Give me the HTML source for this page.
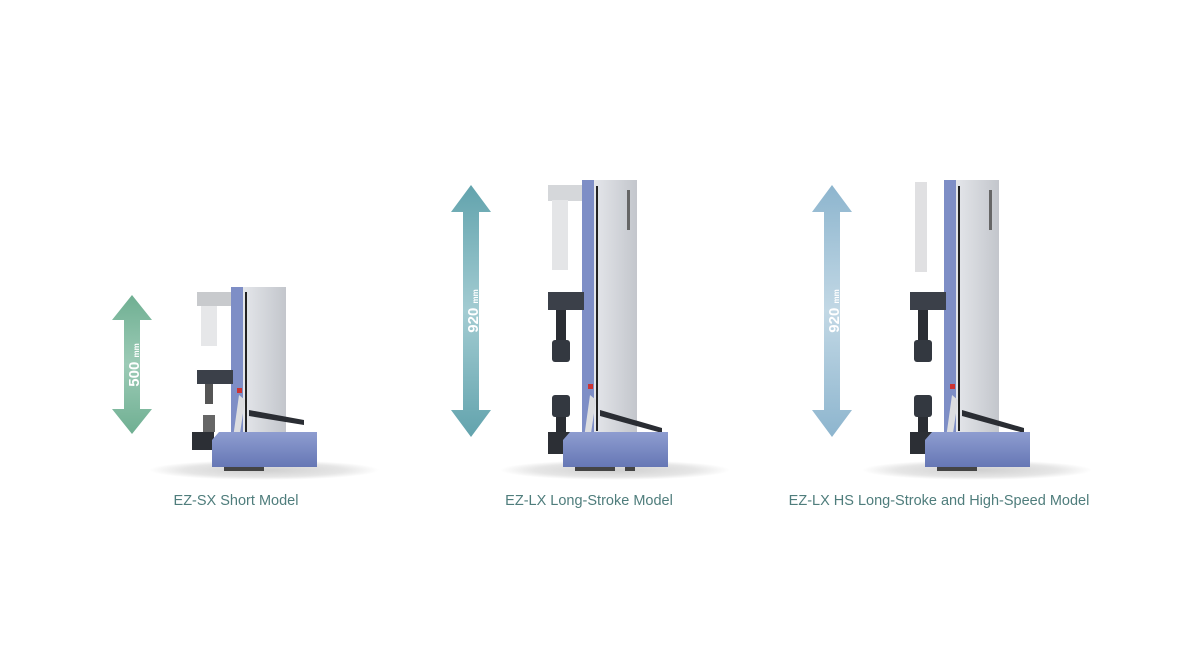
<!DOCTYPE html>
<html><head><meta charset="utf-8"><style>
html,body{margin:0;padding:0;background:#fff;}
svg{display:block}
text{font-family:"Liberation Sans",sans-serif}
</style></head><body>
<svg width="1195" height="670" viewBox="0 0 1195 670" xmlns="http://www.w3.org/2000/svg">
<defs>
<linearGradient id="gG" x1="0" x2="0" y1="0" y2="1"><stop offset="0" stop-color="#6faf92"/><stop offset="0.5" stop-color="#9ccbb6"/><stop offset="1" stop-color="#6faf92"/></linearGradient>
<linearGradient id="gT" x1="0" x2="0" y1="0" y2="1"><stop offset="0" stop-color="#62a3ad"/><stop offset="0.5" stop-color="#a3ccd2"/><stop offset="1" stop-color="#62a3ad"/></linearGradient>
<linearGradient id="gB" x1="0" x2="0" y1="0" y2="1"><stop offset="0" stop-color="#8db5ce"/><stop offset="0.5" stop-color="#c2d8e5"/><stop offset="1" stop-color="#8db5ce"/></linearGradient>
<linearGradient id="gray" x1="0" x2="1"><stop offset="0" stop-color="#e4e6ea"/><stop offset="1" stop-color="#c3c6cc"/></linearGradient>
<linearGradient id="base" x1="0" x2="0" y1="0" y2="1"><stop offset="0" stop-color="#8e9dd0"/><stop offset="1" stop-color="#6677b5"/></linearGradient>
<radialGradient id="sh"><stop offset="0" stop-color="#cfcfcf"/><stop offset="0.7" stop-color="#e6e6e6"/><stop offset="1" stop-color="#ffffff"/></radialGradient>
</defs>

<!-- arrows -->
<path d="M132,295 L152,320 L140,320 L140,409 L152,409 L132,434 L112,409 L124,409 L124,320 L112,320 Z" fill="url(#gG)"/>
<text transform="translate(139,365) rotate(-90)" text-anchor="middle" fill="#fff" font-size="15" font-weight="bold">500 <tspan font-size="8">mm</tspan></text>
<path d="M471,185 L491,212 L479,212 L479,410 L491,410 L471,437 L451,410 L463,410 L463,212 L451,212 Z" fill="url(#gT)"/>
<text transform="translate(478,311) rotate(-90)" text-anchor="middle" fill="#fff" font-size="15" font-weight="bold">920 <tspan font-size="8">mm</tspan></text>
<path d="M832,185 L852,212 L840,212 L840,410 L852,410 L832,437 L812,410 L824,410 L824,212 L812,212 Z" fill="url(#gB)"/>
<text transform="translate(839,311) rotate(-90)" text-anchor="middle" fill="#fff" font-size="15" font-weight="bold">920 <tspan font-size="8">mm</tspan></text>

<!-- middle machine -->
<g>
<ellipse cx="615" cy="470" rx="115" ry="10" fill="url(#sh)"/>
<rect x="548" y="185" width="34" height="16" fill="#d5d7da"/>
<rect x="552" y="200" width="16" height="70" fill="#e4e5e7"/>
<rect x="582" y="180" width="12" height="262" fill="#7e8ec6"/>
<rect x="594" y="180" width="43" height="262" fill="url(#gray)"/>
<rect x="596" y="186" width="2" height="245" fill="#222"/>
<rect x="627" y="190" width="3" height="40" fill="#666"/>
<rect x="548" y="292" width="36" height="18" fill="#3b4049"/>
<rect x="556" y="310" width="10" height="30" fill="#2a2d33"/>
<rect x="552" y="340" width="18" height="22" rx="3" fill="#333840"/>
<rect x="552" y="395" width="18" height="22" rx="3" fill="#333840"/>
<rect x="556" y="417" width="10" height="15" fill="#2a2d33"/>
<rect x="548" y="432" width="22" height="22" fill="#2c2f35"/>
<path d="M590,395 L596,400 L590,440 L584,438 Z" fill="#dcdde0"/>
<rect x="588" y="384" width="5" height="5" fill="#c33"/>
<path d="M600,410 L662,428 L662,433 L600,416 Z" fill="#2a2d33"/>
<path d="M563,440 L570,432 L668,432 L668,467 L563,467 Z" fill="url(#base)"/>
<rect x="575" y="467" width="40" height="4" fill="#444"/>
<rect x="625" y="467" width="10" height="4" fill="#444"/>
</g>

<!-- left machine (short) -->
<g transform="translate(-351,0)">
<ellipse cx="615" cy="470" rx="115" ry="10" fill="url(#sh)"/>
<rect x="548" y="292" width="34" height="14" fill="#c8cacd"/>
<rect x="552" y="306" width="16" height="40" fill="#e6e7e9"/>
<rect x="582" y="287" width="12" height="155" fill="#7e8ec6"/>
<rect x="594" y="287" width="43" height="155" fill="url(#gray)"/>
<rect x="596" y="292" width="2" height="140" fill="#222"/>
<rect x="548" y="370" width="36" height="14" fill="#3b4049"/>
<rect x="556" y="384" width="8" height="20" fill="#555"/>
<rect x="554" y="415" width="12" height="17" fill="#666"/>
<rect x="543" y="432" width="22" height="18" fill="#2c2f35"/>
<path d="M590,395 L596,400 L590,440 L584,438 Z" fill="#dcdde0"/>
<rect x="588" y="388" width="5" height="5" fill="#c33"/>
<path d="M600,410 L655,420 L655,425 L600,416 Z" fill="#2a2d33"/>
<path d="M563,440 L570,432 L668,432 L668,467 L563,467 Z" fill="url(#base)"/>
<rect x="575" y="467" width="40" height="4" fill="#444"/>
</g>

<!-- right machine -->
<g transform="translate(362,0)">
<ellipse cx="615" cy="470" rx="115" ry="10" fill="url(#sh)"/>
<rect x="553" y="182" width="12" height="90" fill="#e0e0e2"/>
<rect x="582" y="180" width="12" height="262" fill="#7e8ec6"/>
<rect x="594" y="180" width="43" height="262" fill="url(#gray)"/>
<rect x="596" y="186" width="2" height="245" fill="#222"/>
<rect x="627" y="190" width="3" height="40" fill="#666"/>
<rect x="548" y="292" width="36" height="18" fill="#3b4049"/>
<rect x="556" y="310" width="10" height="30" fill="#2a2d33"/>
<rect x="552" y="340" width="18" height="22" rx="3" fill="#333840"/>
<rect x="552" y="395" width="18" height="22" rx="3" fill="#333840"/>
<rect x="556" y="417" width="10" height="15" fill="#2a2d33"/>
<rect x="548" y="432" width="22" height="22" fill="#2c2f35"/>
<path d="M590,395 L596,400 L590,440 L584,438 Z" fill="#dcdde0"/>
<rect x="588" y="384" width="5" height="5" fill="#c33"/>
<path d="M600,410 L662,428 L662,433 L600,416 Z" fill="#2a2d33"/>
<path d="M563,440 L570,432 L668,432 L668,467 L563,467 Z" fill="url(#base)"/>
<rect x="575" y="467" width="40" height="4" fill="#444"/>
</g>

<!-- labels -->
<text x="236" y="505" text-anchor="middle" fill="#4f7d7c" font-size="14.5">EZ-SX Short Model</text>
<text x="589" y="505" text-anchor="middle" fill="#4f7d7c" font-size="14.5">EZ-LX Long-Stroke Model</text>
<text x="939" y="505" text-anchor="middle" fill="#4f7d7c" font-size="14.5">EZ-LX HS Long-Stroke and High-Speed Model</text>
</svg>
</body></html>
